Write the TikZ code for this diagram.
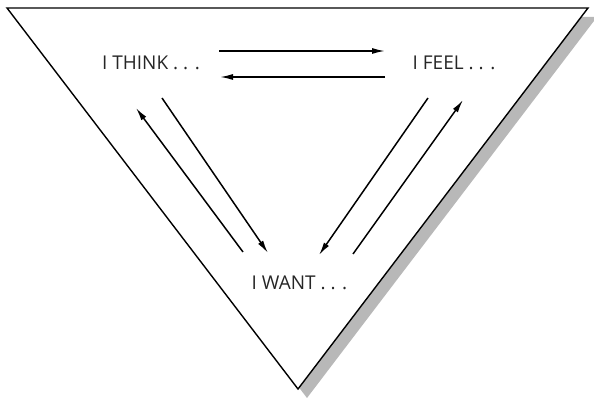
\documentclass[tikz,border=0pt]{standalone}
\usepackage{fontspec}
\setmainfont{Open Sans}
\usetikzlibrary{arrows.meta}

\begin{document}
\begin{tikzpicture}[x=1pt, y=1pt, >={Latex[length=13pt, width=6pt]}, lbl/.style={font=\fontsize{19}{21}\selectfont, text=black!85, inner sep=0pt}, arr/.style={->, line width=1.5pt}]
	\useasboundingbox (0,0) rectangle (594,398);
	% shadow and frame
	\fill[black!28] (16,381) -- (597,381) -- (307,0) -- cycle;
	\filldraw[fill=white, draw=black, line width=1.4pt] (7,390) -- (588,390) -- (298,9) -- cycle;
	\node[lbl] (think) at (151,335) {I THINK . . .};
	\node[lbl] (feel) at (454,335) {I FEEL . . .};
	\node[lbl] (want) at (299.5,115) {I WANT . . .};
	\draw[arr] ([shift={(68,12)}]think.center) -- ([shift={(-69,12)}]feel.center);
	\draw[arr] ([shift={(-69,-14)}]feel.center) -- ([shift={(69,-14)}]think.center);
	\draw[arr] ([shift={(11,-35)}]think.center) -- ([shift={(-31.5,30)}]want.center);
	\draw[arr] ([shift={(-56.5,31)}]want.center) -- ([shift={(-15,-45)}]think.center);
	\draw[arr] ([shift={(-26,-35)}]feel.center) -- ([shift={(19.5,28)}]want.center);
	\draw[arr] ([shift={(53.5,29)}]want.center) -- ([shift={(9,-37)}]feel.center);
\end{tikzpicture}
\end{document}
